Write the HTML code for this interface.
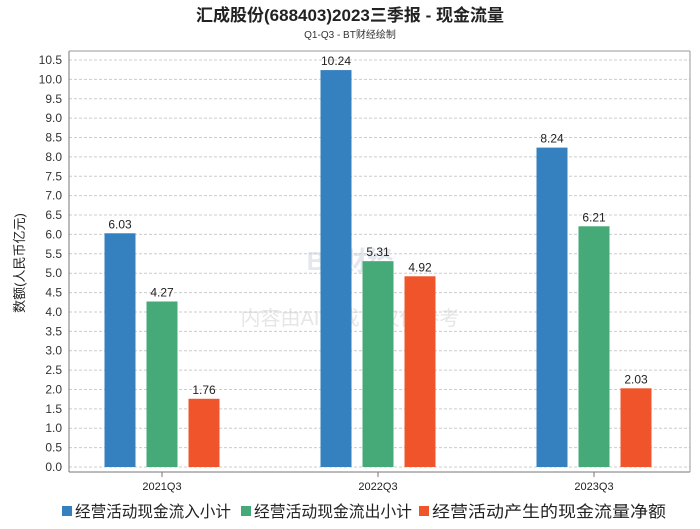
<!DOCTYPE html>
<html><head><meta charset="utf-8"><style>
body{margin:0;background:#fff;font-family:"Liberation Sans","Noto Sans CJK SC",sans-serif;}
</style></head><body>
<svg width="700" height="524" xmlns="http://www.w3.org/2000/svg" id="c">
<text x="350" y="21" text-anchor="middle" font-size="17" font-weight="bold" fill="#222" font-family="Liberation Sans, Noto Sans CJK SC, sans-serif">汇成股份(688403)2023三季报 - 现金流量</text>
<text x="350" y="38" text-anchor="middle" font-size="10" fill="#333">Q1-Q3 - BT财经绘制</text>
<text x="350" y="270" text-anchor="middle" font-size="26" font-weight="bold" fill="#e4e8ee">BT财经</text>
<text x="350" y="325" text-anchor="middle" font-size="20" fill="#e6e6e6">内容由AI生成，仅供参考</text>
<text transform="translate(24,263) rotate(-90)" text-anchor="middle" font-size="13" fill="#222">数额(人民币亿元)</text>
<g id="grid"></g><g id="bars"></g>
<line x1="69" y1="51" x2="69" y2="472" stroke="#777"/>
<line x1="69" y1="472" x2="690" y2="472" stroke="#777"/>
<line x1="69" y1="51" x2="690" y2="51" stroke="#999"/>
<line x1="690" y1="51" x2="690" y2="472" stroke="#999"/>
<g id="legend" font-size="13" fill="#222"></g>
</svg>
<script>
const categories=["2021Q3","2022Q3","2023Q3"];
const inflow=[6.03,10.24,8.24];
const outflow=[4.27,5.31,6.21];
const net=[1.76,4.92,2.03];
const seriesNames=["经营活动现金流入小计","经营活动现金流出小计","经营活动产生的现金流量净额"];
const colors=["#3581c0","#45a978","#f0542a"];
const ticks=[0,0.5,1,1.5,2,2.5,3,3.5,4,4.5,5,5.5,6,6.5,7,7.5,8,8.5,9,9.5,10,10.5];
const NS="http://www.w3.org/2000/svg";
const y=v=>467-v*(407/10.5);
const xc=i=>162+i*216;
function mk(t,a,p){const e=document.createElementNS(NS,t);for(const k in a)e.setAttribute(k,a[k]);p.appendChild(e);return e;}
const g=document.getElementById('grid');
ticks.forEach(t=>{
 const l=mk('line',{x1:69,x2:690,y1:y(t),y2:y(t),stroke:'#ccc','stroke-dasharray':'3,2'},g);
 
 
 const tx=mk('text',{x:62,y:y(t)+4,'text-anchor':'end','font-size':12,fill:'#333'},g);
 tx.textContent=t.toFixed(1);
 
 
});
const b=document.getElementById('bars');
const series=[inflow,outflow,net];
categories.forEach((c,i)=>{
 const tl=mk('line',{x1:xc(i),x2:xc(i),y1:472,y2:477,stroke:'#777'},b);
 
 
 const t=mk('text',{x:xc(i),y:490,'text-anchor':'middle','font-size':11,fill:'#222'},b);
 t.textContent=c;
 
 
 series.forEach((s,j)=>{
  const cx=xc(i)+(j-1)*42;
  const r=mk('rect',{x:cx-15.5,y:y(s[i]),width:31,height:467-y(s[i]),fill:colors[j]},b);
  
  
  const v=mk('text',{x:cx,y:y(s[i])-5,'text-anchor':'middle','font-size':12,fill:'#222'},b);
  v.textContent=s[i].toFixed(2);
  
  
 });
});
const lg=document.getElementById('legend');
const lx=[62,241,419];
const lw=[156,158,234];
seriesNames.forEach((n,j)=>{
 const r=mk('rect',{x:lx[j],y:506,width:10,height:10,fill:colors[j]},lg);
 
 
 const t=mk('text',{x:lx[j]+13,y:517,'font-size':16,fill:'#222',textLength:lw[j],lengthAdjust:'spacingAndGlyphs'},lg);
 t.textContent=n;
 
 
});
</script>
</body></html>
